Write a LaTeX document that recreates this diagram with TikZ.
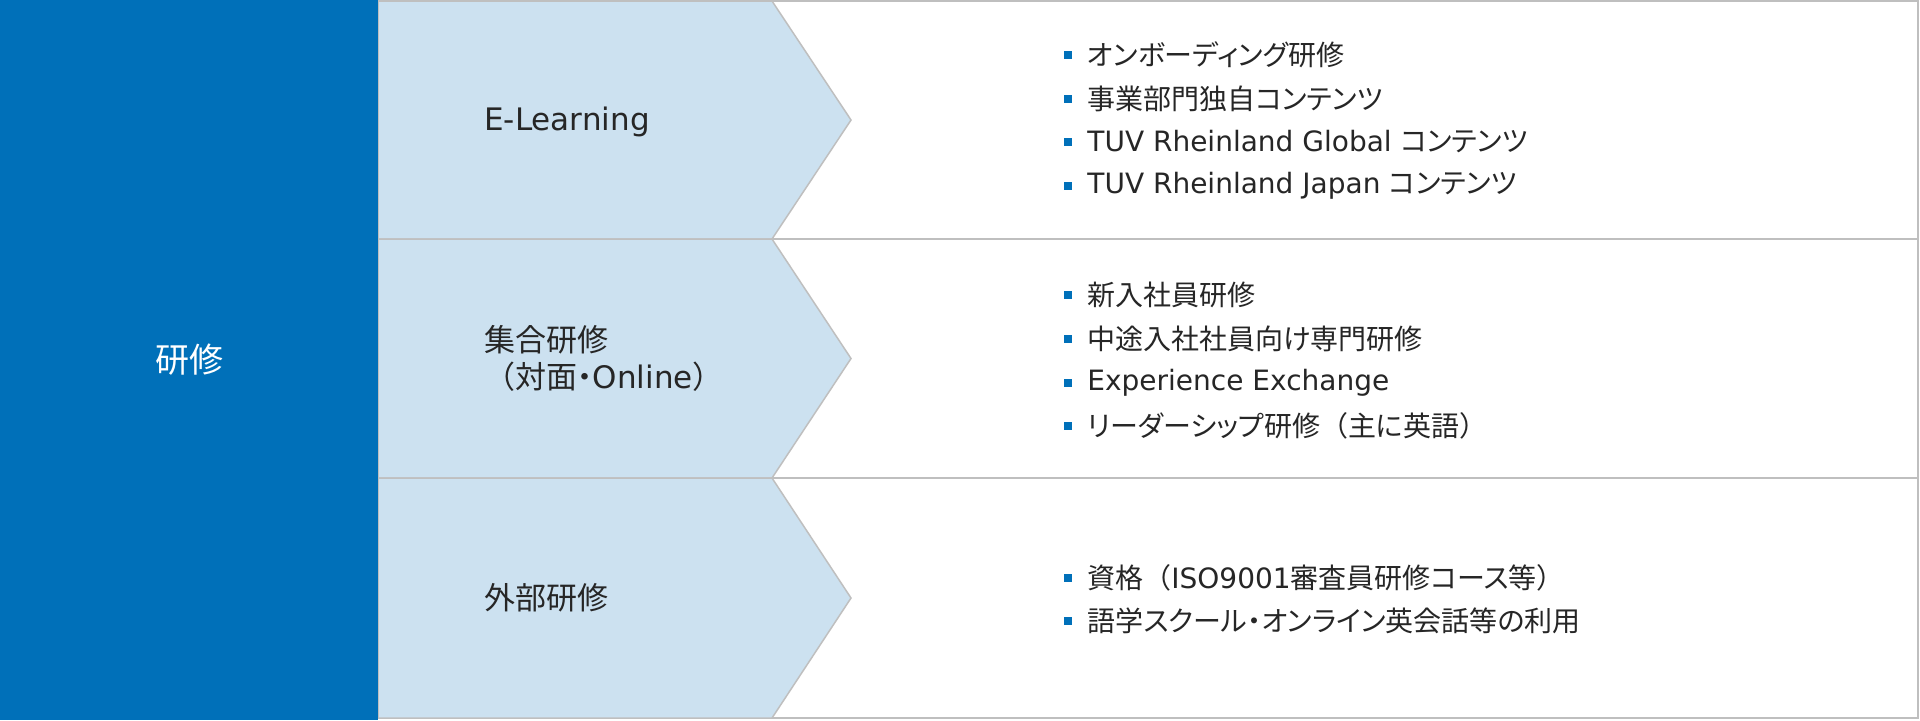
\documentclass[tikz,border=0pt]{standalone}
\usepackage{fontspec}
\setmainfont{DejaVu Sans}
\newfontfamily\jp{Noto Sans CJK JP}
\newfontfamily\jpp[RawFeature=+palt]{Noto Sans CJK JP}
\definecolor{tuvblue}{RGB}{0,112,185}
\definecolor{chevblue}{RGB}{204,225,240}
\definecolor{linegray}{RGB}{191,191,191}
\definecolor{textgray}{RGB}{38,38,38}
\begin{document}
\begin{tikzpicture}[x=0.5pt,y=-0.5pt,
  rowbox/.style={draw=linegray,line width=0.75pt,fill=white},
  chev/.style={fill=chevblue,draw=linegray,line width=0.75pt},
  item/.style={anchor=west,inner sep=0pt,font=\fontsize{14}{17}\selectfont,text=textgray},
  bul/.style={fill=tuvblue,draw=none,minimum size=4pt,inner sep=0pt},
  chevtext/.style={anchor=west,inner sep=0pt,align=left,font=\fontsize{15.5}{18.5}\selectfont,text=textgray}]
\useasboundingbox (0,0) rectangle (1920,720);
% row boxes
\draw[rowbox] (378,1) rectangle (1918,239);
\draw[rowbox] (378,239) rectangle (1918,478);
\draw[rowbox] (378,478) rectangle (1918,718);
% chevrons
\draw[chev] (378,1) -- (772,1) -- (851,120) -- (772,239) -- (378,239) -- cycle;
\draw[chev] (378,239) -- (772,239) -- (851,358.5) -- (772,478) -- (378,478) -- cycle;
\draw[chev] (378,478) -- (772,478) -- (851,598) -- (772,718) -- (378,718) -- cycle;
% left blue block
\fill[tuvblue] (0,0) rectangle (378,720);
\node[text=white,font=\fontsize{17}{20}\selectfont\jp,inner sep=0pt] (main) at (189,360) {研修};
% chevron labels
\node[chevtext] (c1) at (484,122) {E-Learning};
\node[chevtext] (c2) at (484,358) {{\jp 集合研修}\\{\jp （}{\jpp 対面・}Online{\jp ）}};
\node[chevtext] (c3) at (484,598) {\jp 外部研修};
% row 1 items
\node[bul] (b11) at (1068,55) {};
\node[item] (t11) at (1087,55) {\jpp オンボーディング研修};
\node[bul] (b12) at (1068,98.5) {};
\node[item] (t12) at (1087,98.5) {\jpp 事業部門独自コンテンツ};
\node[bul] (b13) at (1068,142) {};
\node[item] (t13) at (1087,142) {TUV Rheinland Global {\jpp コンテンツ}};
\node[bul] (b14) at (1068,185.5) {};
\node[item] (t14) at (1087,185.5) {TUV Rheinland Japan {\jpp コンテンツ}};
% row 2 items
\node[bul] (b21) at (1068,295) {};
\node[item] (t21) at (1087,295) {\jp 新入社員研修};
\node[bul] (b22) at (1068,338.5) {};
\node[item] (t22) at (1087,338.5) {\jpp 中途入社社員向け専門研修};
\node[bul] (b23) at (1068,382.5) {};
\node[item] (t23) at (1087,382.5) {Experience Exchange};
\node[bul] (b24) at (1068,426) {};
\node[item] (t24) at (1087,426) {{\jpp リーダーシップ研修}{\jp （}{\jpp 主に英語}{\jp ）}};
% row 3 items
\node[bul] (b31) at (1068,577.5) {};
\node[item] (t31) at (1087,577.5) {{\jp 資格（}ISO9001{\jpp 審査員研修コース等}{\jp ）}};
\node[bul] (b32) at (1068,621) {};
\node[item] (t32) at (1087,621) {\jpp 語学スクール・オンライン英会話等の利用};
\end{tikzpicture}
\end{document}
